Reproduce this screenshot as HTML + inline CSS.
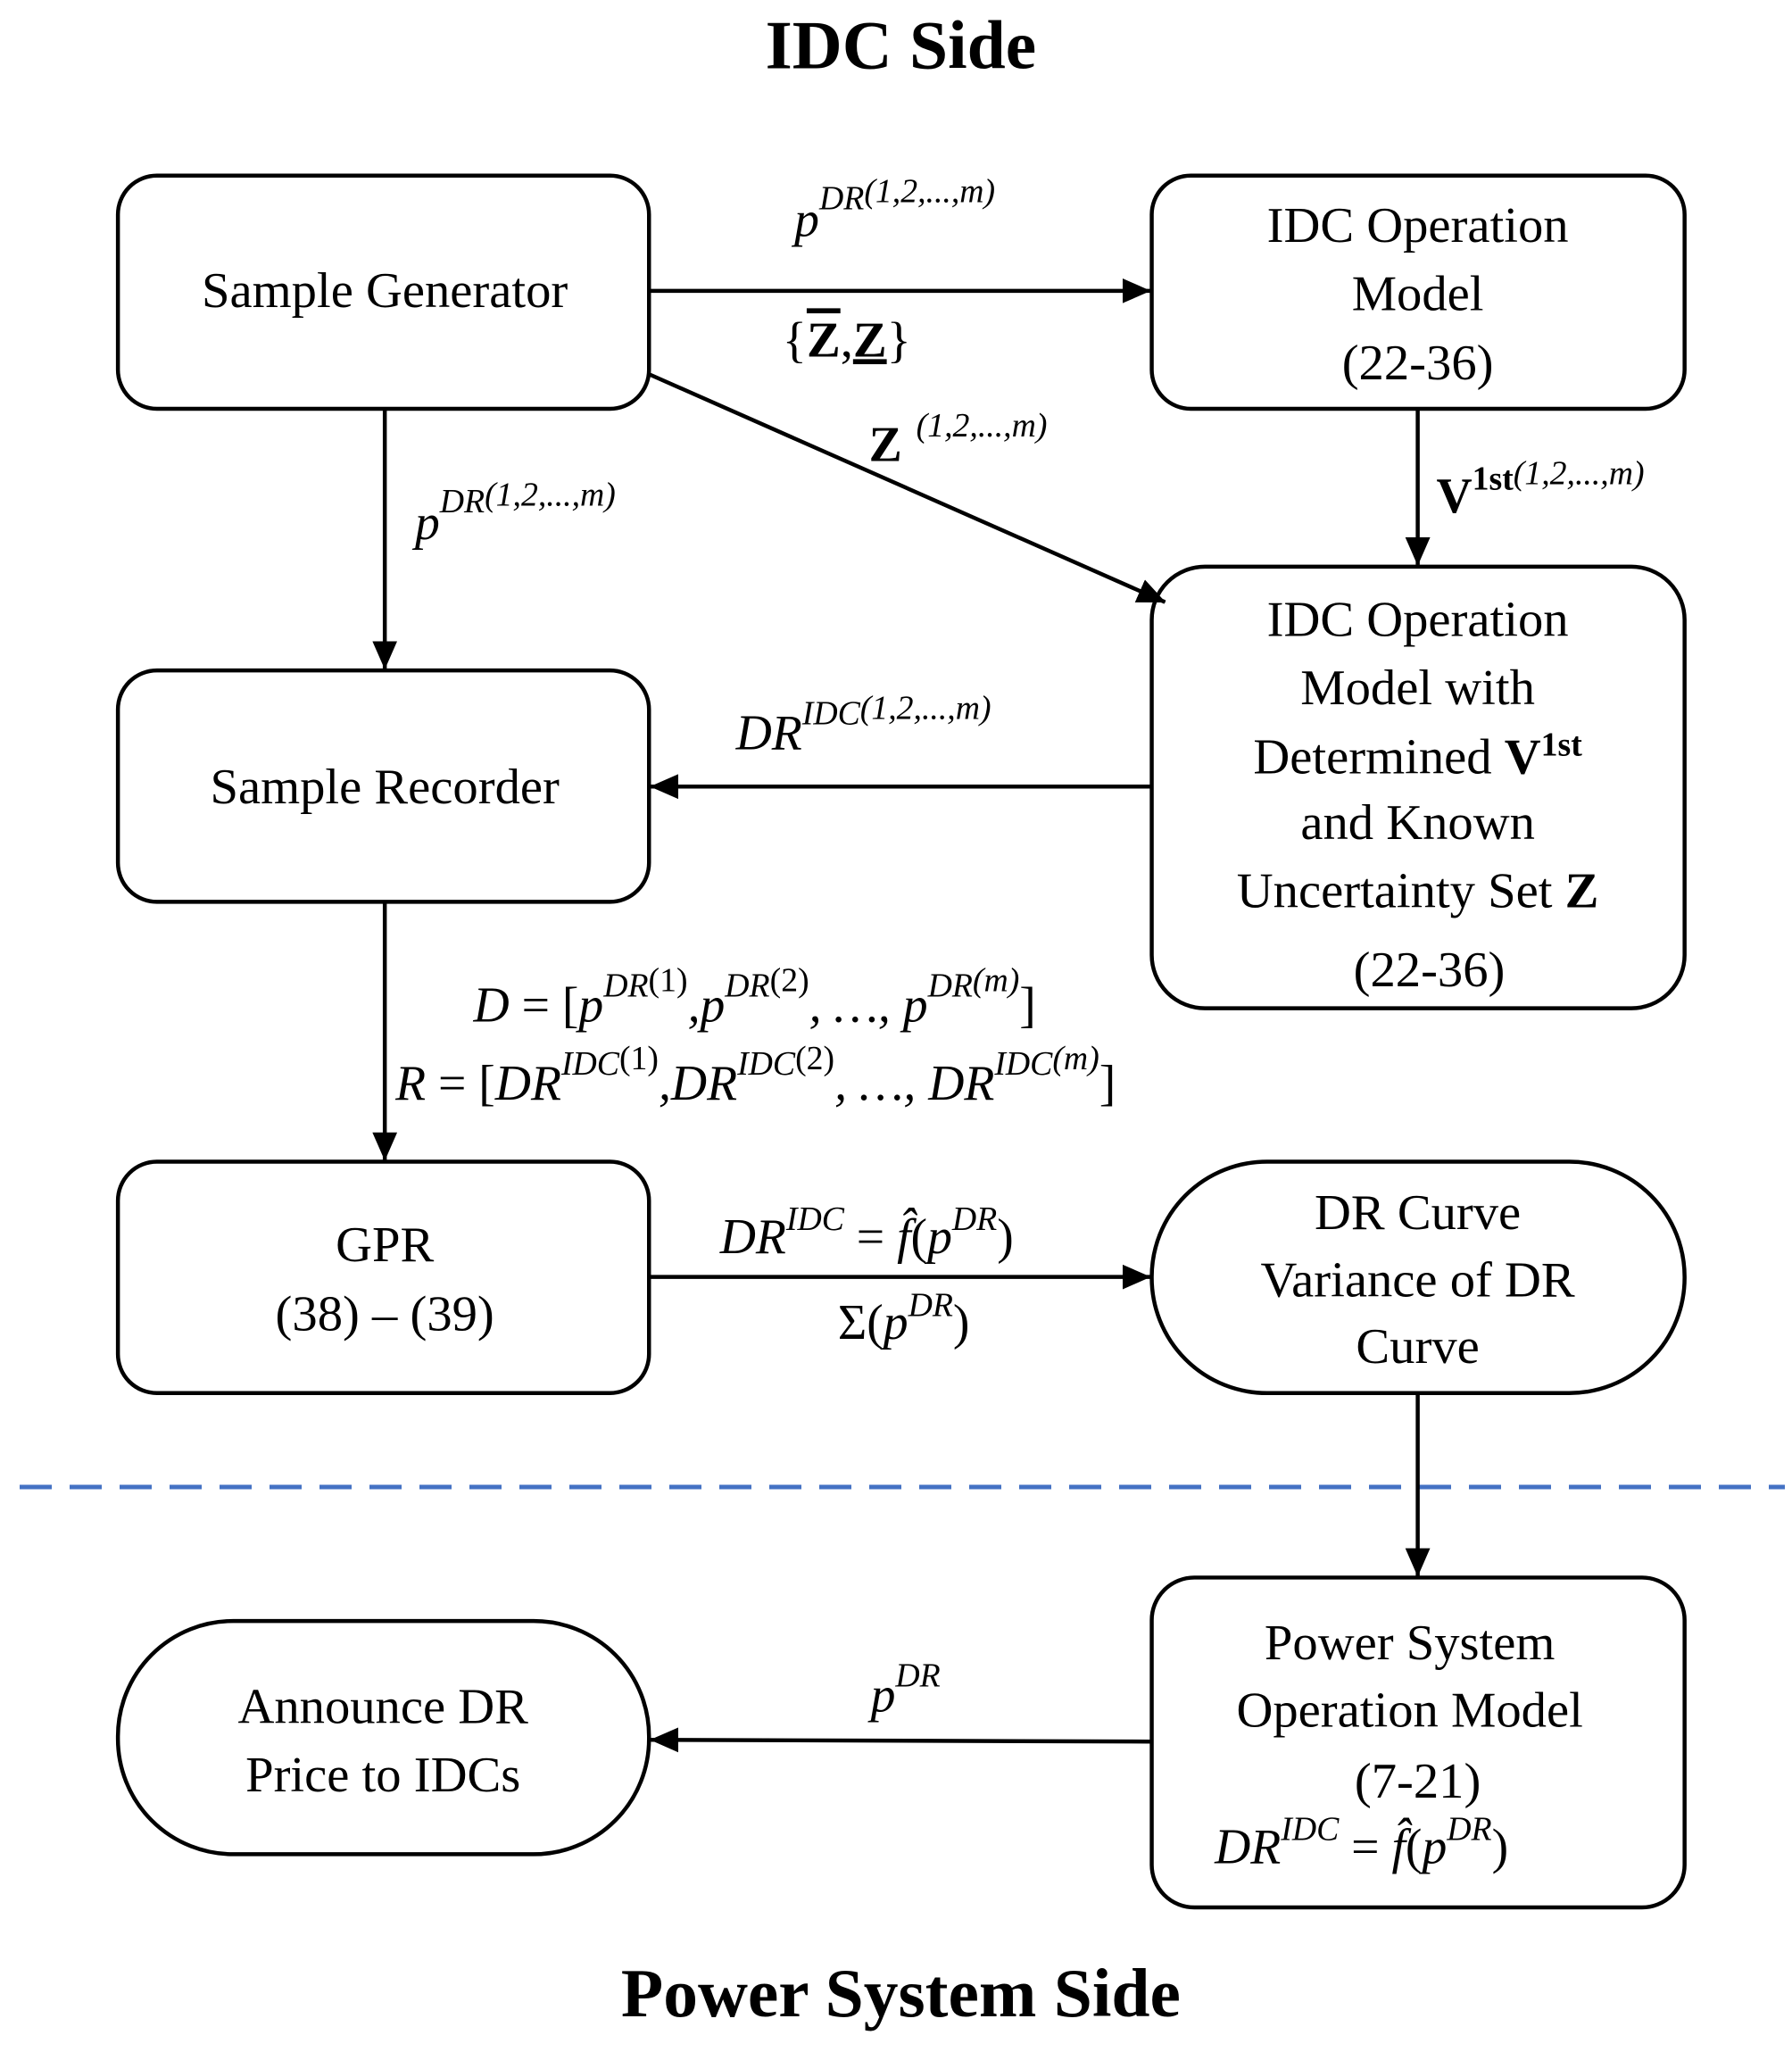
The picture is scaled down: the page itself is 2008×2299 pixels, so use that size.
<!DOCTYPE html>
<html><head><meta charset="utf-8"><style>
html,body{margin:0;padding:0;background:#fff}
svg{display:block}
.t{font-family:"Liberation Serif",serif;font-size:57px;fill:#000;text-anchor:middle}
.m{font-family:"Liberation Serif",serif;font-style:italic;font-size:56px;fill:#000}
.s{font-size:38px}
.h{font-family:"Liberation Serif",serif;font-weight:bold;font-size:78px;text-anchor:middle}
</style></head><body>
<svg width="2008" height="2299" viewBox="0 0 2008 2299" xmlns="http://www.w3.org/2000/svg">
<defs>
<marker id="b" markerWidth="32" markerHeight="28" refX="31" refY="14" orient="auto" markerUnits="userSpaceOnUse"><path d="M0,0 L32,14 L0,28z" fill="#000"/></marker></defs>
<line x1="22" y1="1666" x2="2000" y2="1666" stroke="#4472c4" stroke-width="5" stroke-dasharray="36,20"/>
<g transform="scale(0.9935)">
<text class="h" x="1016" y="77">IDC Side</text>
<text class="h" x="1016" y="2274">Power System Side</text>
<g fill="none" stroke="#000" stroke-width="4.5">
<rect x="133" y="198" width="599" height="263" rx="44"/>
<rect x="1299" y="198" width="601" height="263" rx="44"/>
<rect x="1299" y="639" width="601" height="498" rx="60"/>
<rect x="133" y="756" width="599" height="261" rx="44"/>
<rect x="133" y="1310" width="599" height="261" rx="44"/>
<rect x="1299" y="1310" width="601" height="261" rx="130"/>
<rect x="1299" y="1779" width="601" height="372" rx="48"/>
<rect x="133" y="1828" width="599" height="263" rx="130"/>
<g marker-end="url(#b)">
<line x1="732" y1="328" x2="1297" y2="328"/>
<line x1="732" y1="422" x2="1314" y2="679"/>
<line x1="434" y1="461" x2="434" y2="754"/>
<line x1="1599" y1="461" x2="1599" y2="637"/>
<line x1="1299" y1="887" x2="734" y2="887"/>
<line x1="434" y1="1017" x2="434" y2="1308"/>
<line x1="732" y1="1440" x2="1297" y2="1440"/>
<line x1="1599" y1="1571" x2="1599" y2="1777"/>
<line x1="1299" y1="1964" x2="734" y2="1962"/>
</g>
</g>
<text class="t" x="434" y="346">Sample Generator</text>
<text class="t" x="1599" y="273">IDC Operation</text>
<text class="t" x="1599" y="350">Model</text>
<text class="t" x="1599" y="428">(22-36)</text>
<text class="t" x="1599" y="717">IDC Operation</text>
<text class="t" x="1599" y="794">Model with</text>
<text class="t" x="1599" y="872">Determined <tspan font-weight="bold">V</tspan><tspan font-weight="bold" font-size="38" dy="-20">1st</tspan></text>
<text class="t" x="1599" y="946">and Known</text>
<text class="t" x="1599" y="1023">Uncertainty  Set <tspan font-weight="bold">Z</tspan></text>
<text class="t" x="1612" y="1112">(22-36)</text>
<text class="t" x="434" y="906">Sample Recorder</text>
<text class="t" x="434" y="1422">GPR</text>
<text class="t" x="434" y="1500">(38) – (39)</text>
<text class="t" x="1599" y="1386">DR Curve</text>
<text class="t" x="1599" y="1462">Variance of DR</text>
<text class="t" x="1599" y="1537">Curve</text>
<text class="t" x="1590" y="1871">Power System</text>
<text class="t" x="1590" y="1947">Operation Model</text>
<text class="t" x="1599" y="2027">(7-21)</text>
<text class="m" x="1370" y="2101">DR<tspan class="s" dy="-26">IDC</tspan><tspan dy="26" font-style="normal"> = </tspan>f̂<tspan font-style="normal">(</tspan>p<tspan class="s" dy="-26">DR</tspan><tspan dy="26" font-style="normal">)</tspan></text>
<text class="t" x="432" y="1943">Announce DR</text>
<text class="t" x="432" y="2020">Price to IDCs</text>
<text class="m" x="896" y="266">p<tspan class="s" dy="-30">DR</tspan><tspan class="s" dy="-8">(1,2,...,m)</tspan></text>
<text class="t" x="955" y="402">{<tspan font-weight="bold" text-decoration="overline">Z</tspan>,<tspan font-weight="bold" text-decoration="underline">Z</tspan>}</text>
<text class="m" x="980" y="520"><tspan font-weight="bold" font-style="normal">Z</tspan><tspan class="s" dx="16" dy="-28">(1,2,...,m)</tspan></text>
<text class="m" x="1620" y="578"><tspan font-weight="bold" font-style="normal">V</tspan><tspan class="s" font-weight="bold" font-style="normal" dy="-26">1st</tspan><tspan class="s" dy="-6">(1,2,...,m)</tspan></text>
<text class="m" x="468" y="608">p<tspan class="s" dy="-30">DR</tspan><tspan class="s" dy="-8">(1,2,...,m)</tspan></text>
<text class="m" x="830" y="845">DR<tspan class="s" dy="-28">IDC</tspan><tspan class="s" dy="-6">(1,2,...,m)</tspan></text>
<text class="m" x="534" y="1152">D<tspan font-style="normal"> = [</tspan>p<tspan class="s" dy="-28">DR</tspan><tspan class="s" font-style="normal" dy="-6">(1)</tspan><tspan dy="34">,p</tspan><tspan class="s" dy="-28">DR</tspan><tspan class="s" font-style="normal" dy="-6">(2)</tspan><tspan dy="34">, …, p</tspan><tspan class="s" dy="-28">DR</tspan><tspan class="s" dy="-6">(m)</tspan><tspan dy="34" font-style="normal">]</tspan></text>
<text class="m" x="446" y="1240">R<tspan font-style="normal"> = [</tspan>DR<tspan class="s" dy="-28">IDC</tspan><tspan class="s" font-style="normal" dy="-6">(1)</tspan><tspan dy="34">,DR</tspan><tspan class="s" dy="-28">IDC</tspan><tspan class="s" font-style="normal" dy="-6">(2)</tspan><tspan dy="34">, …, DR</tspan><tspan class="s" dy="-28">IDC</tspan><tspan class="s" dy="-6">(m)</tspan><tspan dy="34" font-style="normal">]</tspan></text>
<text class="m" x="812" y="1413">DR<tspan class="s" dy="-26">IDC</tspan><tspan dy="26" font-style="normal"> = </tspan>f̂<tspan font-style="normal">(</tspan>p<tspan class="s" dy="-26">DR</tspan><tspan dy="26" font-style="normal">)</tspan></text>
<text class="m" x="945" y="1510"><tspan font-style="normal">Σ(</tspan>p<tspan class="s" dy="-26">DR</tspan><tspan dy="26" font-style="normal">)</tspan></text>
<text class="m" x="982" y="1930">p<tspan class="s" dy="-28">DR</tspan></text>
</g>
</svg>
</body></html>
